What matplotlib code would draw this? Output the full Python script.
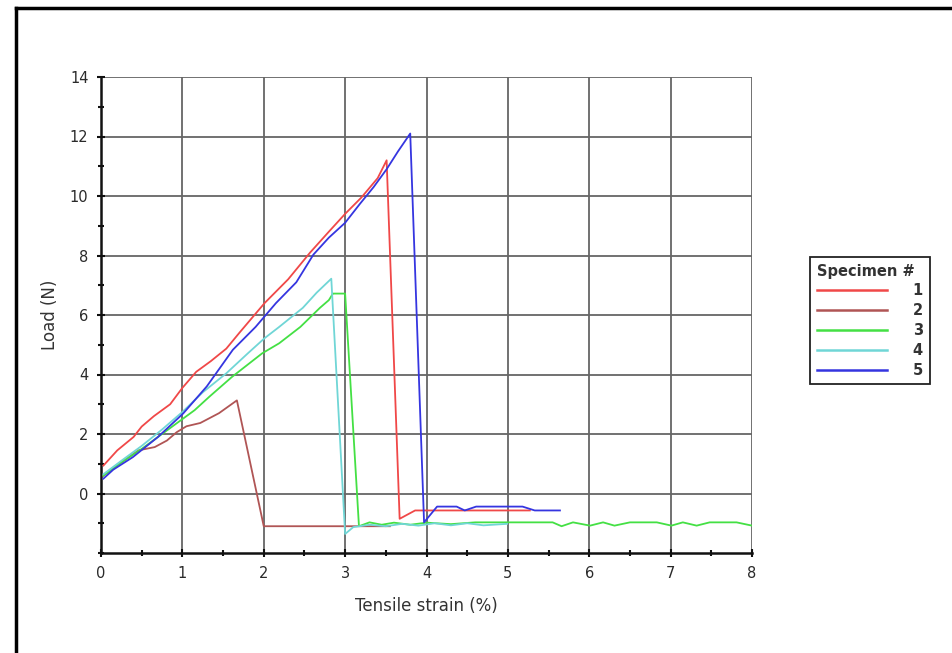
import matplotlib
matplotlib.use("Agg")
import matplotlib.pyplot as plt
from matplotlib.lines import Line2D
from matplotlib.ticker import MultipleLocator

# ---- data ----
labels = ["1", "2", "3", "4", "5"]

s1_x = [0.03, 0.2, 0.4, 0.5, 0.65, 0.85, 1.0, 1.17, 1.35, 1.54, 1.7, 1.83, 2.01, 2.3, 2.57, 2.8, 3.0, 3.2, 3.4, 3.51, 3.67, 3.86, 4.5, 5.27]
s1_y = [0.94, 1.45, 1.9, 2.25, 2.6, 3.0, 3.55, 4.09, 4.45, 4.87, 5.4, 5.82, 6.4, 7.2, 8.1, 8.8, 9.4, 9.95, 10.6, 11.2, -0.85, -0.57, -0.57, -0.57]

s2_x = [0.03, 0.2, 0.46, 0.66, 0.81, 0.93, 1.05, 1.22, 1.45, 1.67, 2.0, 3.55]
s2_y = [0.6, 0.95, 1.45, 1.56, 1.78, 2.06, 2.26, 2.37, 2.7, 3.13, -1.1, -1.1]

s3_x = [0.03, 0.2, 0.5, 0.75, 1.0, 1.15, 1.33, 1.61, 1.98, 2.19, 2.45, 2.69, 2.8, 2.85, 3.0, 3.17,
        3.3, 3.45, 3.6, 3.8, 4.0, 4.3, 4.6, 5.0, 5.4, 5.55, 5.66, 5.8, 6.01, 6.17, 6.31, 6.5,
        6.83, 7.01, 7.15, 7.32, 7.48, 7.81, 8.0]
s3_y = [0.6, 0.95, 1.5, 2.0, 2.5, 2.8, 3.25, 3.92, 4.71, 5.05, 5.6, 6.24, 6.5, 6.72, 6.72, -1.1,
        -0.97, -1.05, -0.98, -1.05, -0.98, -1.03, -0.97, -0.97, -0.97, -0.97, -1.1, -0.97, -1.08, -0.97, -1.08, -0.97,
        -0.97, -1.08, -0.97, -1.08, -0.97, -0.97, -1.08]

s4_x = [0.03, 0.25, 0.5, 0.75, 1.0, 1.25, 1.54, 1.8, 2.01, 2.19, 2.48, 2.65, 2.83, 3.0, 3.1, 3.3, 3.5, 3.7, 3.9, 4.1, 4.3, 4.5, 4.7, 4.99]
s4_y = [0.65, 1.1, 1.6, 2.15, 2.74, 3.4, 4.04, 4.7, 5.22, 5.6, 6.24, 6.75, 7.22, -1.36, -1.13, -1.05, -1.1, -1.02, -1.08, -1.0, -1.07, -1.0, -1.07, -1.02]

s5_x = [0.03, 0.15, 0.39, 0.7, 1.01, 1.3, 1.62, 1.9, 2.15, 2.4, 2.61, 2.8, 3.0, 3.18, 3.35, 3.51, 3.65, 3.80, 3.97, 4.13, 4.37, 4.47, 4.61, 5.18, 5.33, 5.64]
s5_y = [0.5, 0.8, 1.22, 1.9, 2.69, 3.6, 4.83, 5.6, 6.4, 7.1, 8.03, 8.6, 9.1, 9.73, 10.3, 10.9, 11.5, 12.1, -0.97, -0.44, -0.44, -0.57, -0.44, -0.44, -0.57, -0.57]

colors = ["#f04848", "#b05555", "#44e044", "#70d6d6", "#3535e0"]

x_ticks = [0, 1, 2, 3, 4, 5, 6, 7, 8]
y_ticks = [0, 2, 4, 6, 8, 10, 12, 14]

# ---- figure ----
fig = plt.figure(figsize=(9.52, 6.53), dpi=100)
ax = fig.add_axes([101 / 952, 1 - 553 / 653, (752 - 101) / 952, (553 - 77) / 653])

series = [(s1_x, s1_y), (s2_x, s2_y), (s3_x, s3_y), (s4_x, s4_y), (s5_x, s5_y)]
for (xs, ys), c, lab in zip(series, colors, labels):
    ax.plot(xs, ys, color=c, lw=1.3, label=lab, zorder=3)

ax.set_xlim(0, 8)
ax.set_ylim(-2, 14)
ax.set_xticks(x_ticks)
ax.set_yticks(y_ticks)
ax.xaxis.set_minor_locator(MultipleLocator(0.5))
ax.yaxis.set_minor_locator(MultipleLocator(1))
ax.grid(True, which="major", color="#666666", lw=1.3, zorder=1)

for side in ["top", "right"]:
    ax.spines[side].set_visible(False)
for side in ["left", "bottom"]:
    ax.spines[side].set_color("#111111")
    ax.spines[side].set_linewidth(1.8)

ax.tick_params(which="both", direction="inout", color="#111111", width=1.5,
               labelsize=10.5, labelcolor="#2a2a2a")
ax.tick_params(which="major", length=6, pad=6)
ax.tick_params(which="minor", length=5)

ax.set_xlabel("Tensile strain (%)", fontsize=12, color="#333333", labelpad=12)
ax.set_ylabel("Load (N)", fontsize=12, color="#333333", labelpad=8)

leg = ax.legend(title="Specimen #", loc="upper left",
                bbox_to_anchor=(810 / 952, 1 - 257 / 653), bbox_transform=fig.transFigure,
                fancybox=False, edgecolor="#222222", framealpha=1,
                fontsize=10.5, title_fontsize=10.5, handlelength=4.8,
                handletextpad=1.8, labelspacing=0.33, borderpad=0.45,
                alignment="left", borderaxespad=0)
leg.get_frame().set_linewidth(1.3)
leg.get_title().set_color("#333333")
leg.get_title().set_fontweight("bold")
for t in leg.get_texts():
    t.set_color("#333333")
    t.set_fontweight("bold")
for h in leg.legend_handles:
    h.set_linewidth(1.8)

# outer frame (top and left edges)
fig.add_artist(Line2D([16 / 952, 1.0], [1 - 8 / 653, 1 - 8 / 653], transform=fig.transFigure,
                      color="black", lw=2.5))
fig.add_artist(Line2D([16 / 952, 16 / 952], [0, 1 - 8 / 653], transform=fig.transFigure,
                      color="black", lw=2.5))

fig.savefig("out.png", dpi=100)
